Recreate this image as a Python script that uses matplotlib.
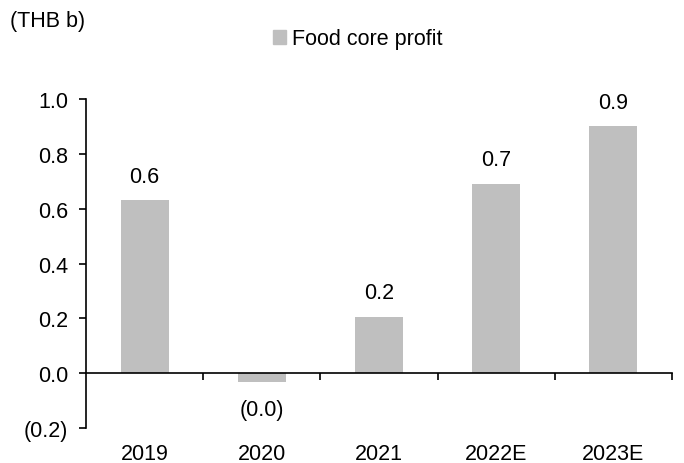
import matplotlib
matplotlib.use("Agg")
from matplotlib import pyplot as plt
from matplotlib.patches import Patch

plt.rcParams['font.family'] = ['Liberation Sans', 'DejaVu Sans']

years = ['2019', '2020', '2021', '2022E', '2023E']
core_profit = [0.63, -0.033, 0.205, 0.69, 0.90]
value_labels = ['0.6', '(0.0)', '0.2', '0.7', '0.9']
y_ticks = [-0.2, 0.0, 0.2, 0.4, 0.6, 0.8, 1.0]
y_tick_labels = ['(0.2)', '0.0', '0.2', '0.4', '0.6', '0.8', '1.0']

bar_color = '#bfbfbf'
fs = 15.5


def fmt_label(ax, x, v, s):
    if v >= 0:
        ax.annotate(s, (x, v), xytext=(0, 10), textcoords='offset points',
                    ha='center', va='bottom', fontsize=fs)
    else:
        ax.annotate(s, (x, v), xytext=(0, -12), textcoords='offset points',
                    ha='center', va='top', fontsize=fs)


fig = plt.figure(figsize=(6.84, 4.64), dpi=100)
ax = fig.add_axes([0.1257, 0.0754, 0.8568, 0.7091])

x = list(range(len(years)))
ax.bar(x, core_profit, width=0.41, color=bar_color, zorder=2)
for xi, v, s in zip(x, core_profit, value_labels):
    fmt_label(ax, xi, v, s)

ax.set_xlim(-0.5, len(years) - 0.5)
ax.set_ylim(-0.2, 1.0)
ax.set_yticks(y_ticks)
ax.set_yticklabels(y_tick_labels, fontsize=fs)
ax.tick_params(axis='y', direction='out', length=5, width=1.2, pad=8)

# x axis drawn at zero, boundary ticks down, labels at the bottom
ax.spines['bottom'].set_position(('data', 0))
ax.spines['bottom'].set_linewidth(1.2)
ax.spines['left'].set_linewidth(1.2)
ax.spines['top'].set_visible(False)
ax.spines['right'].set_visible(False)
ax.set_xticks(x)
ax.set_xticklabels(years, fontsize=fs)
ax.set_xticks([i + 0.5 for i in x], minor=True)
ax.tick_params(axis='x', which='major', length=0, pad=50)
ax.tick_params(axis='x', which='minor', direction='out', length=5, width=1.2)

fig.text(0.015, 0.953, '(THB b)', fontsize=fs, ha='left', va='center')
fig.legend(handles=[Patch(color=bar_color, label='Food core profit')],
           loc='center', bbox_to_anchor=(0.523, 0.914), frameon=False,
           fontsize=fs, handlelength=0.6, handleheight=0.6, handletextpad=0.3)

plt.savefig('out.png', dpi=100)
